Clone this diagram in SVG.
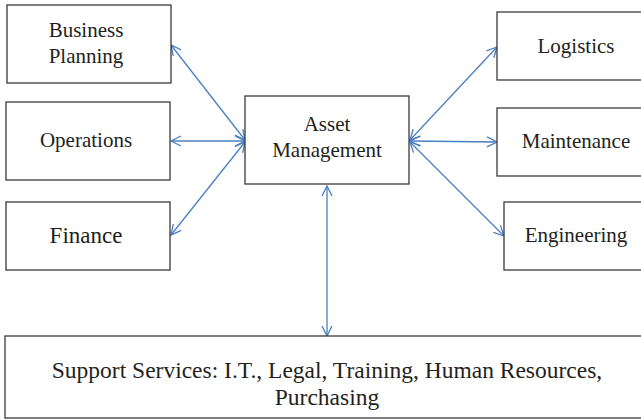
<svg xmlns="http://www.w3.org/2000/svg" width="641" height="419" viewBox="0 0 641 419">
<style>
.box{fill:#fff;stroke:#3a3a3a;stroke-width:1.3}
.t{font-family:'Liberation Serif','Tinos','DejaVu Serif',serif;font-size:21px;fill:#231f20;text-anchor:middle}
.c{fill:none;stroke:#4a7fc1;stroke-width:1.3;marker-start:url(#ah);marker-end:url(#ah)}
</style>
<defs>
<marker id="ah" viewBox="0 0 12 12" refX="11" refY="6" markerWidth="12" markerHeight="12" markerUnits="userSpaceOnUse" orient="auto-start-reverse">
<path d="M1,1 L11,6 L1,11" fill="none" stroke="#4a7fc1" stroke-width="1.3"/>
</marker>
</defs>
<rect width="641" height="419" fill="#fff"/>
<g id="connectors">
<line class="c" x1="171" y1="45" x2="245" y2="140"/>
<line class="c" x1="171" y1="141" x2="245" y2="141"/>
<line class="c" x1="171" y1="235" x2="245" y2="142"/>
<line class="c" x1="410" y1="140" x2="497" y2="47"/>
<line class="c" x1="410" y1="141" x2="497" y2="142"/>
<line class="c" x1="410" y1="142" x2="504" y2="236"/>
<line class="c" x1="327" y1="186" x2="327" y2="336"/>
</g>
<g id="business-planning">
<rect class="box" x="7" y="5" width="164" height="78"/>
<text class="t" x="86" y="37">Business</text>
<text class="t" x="86" y="63">Planning</text>
</g>
<g id="operations">
<rect class="box" x="6" y="102" width="164" height="78"/>
<text class="t" x="86" y="147">Operations</text>
</g>
<g id="finance">
<rect class="box" x="6" y="202" width="164" height="68"/>
<text class="t" x="86" y="243" style="font-size:23px">Finance</text>
</g>
<g id="asset-management">
<rect class="box" x="245" y="96" width="164" height="88"/>
<text class="t" x="327" y="131">Asset</text>
<text class="t" x="327" y="157">Management</text>
</g>
<g id="logistics">
<rect class="box" x="497" y="12" width="150" height="68"/>
<text class="t" x="576" y="53">Logistics</text>
</g>
<g id="maintenance">
<rect class="box" x="497" y="108" width="150" height="68"/>
<text class="t" x="576" y="148">Maintenance</text>
</g>
<g id="engineering">
<rect class="box" x="504" y="202" width="143" height="68"/>
<text class="t" x="576" y="242">Engineering</text>
</g>
<g id="support-services">
<rect class="box" x="5" y="336" width="642" height="82"/>
<text class="t" x="327" y="378" style="font-size:23.5px">Support Services: I.T., Legal, Training, Human Resources,</text>
<text class="t" x="327" y="405" style="font-size:23.5px">Purchasing</text>
</g>
</svg>
